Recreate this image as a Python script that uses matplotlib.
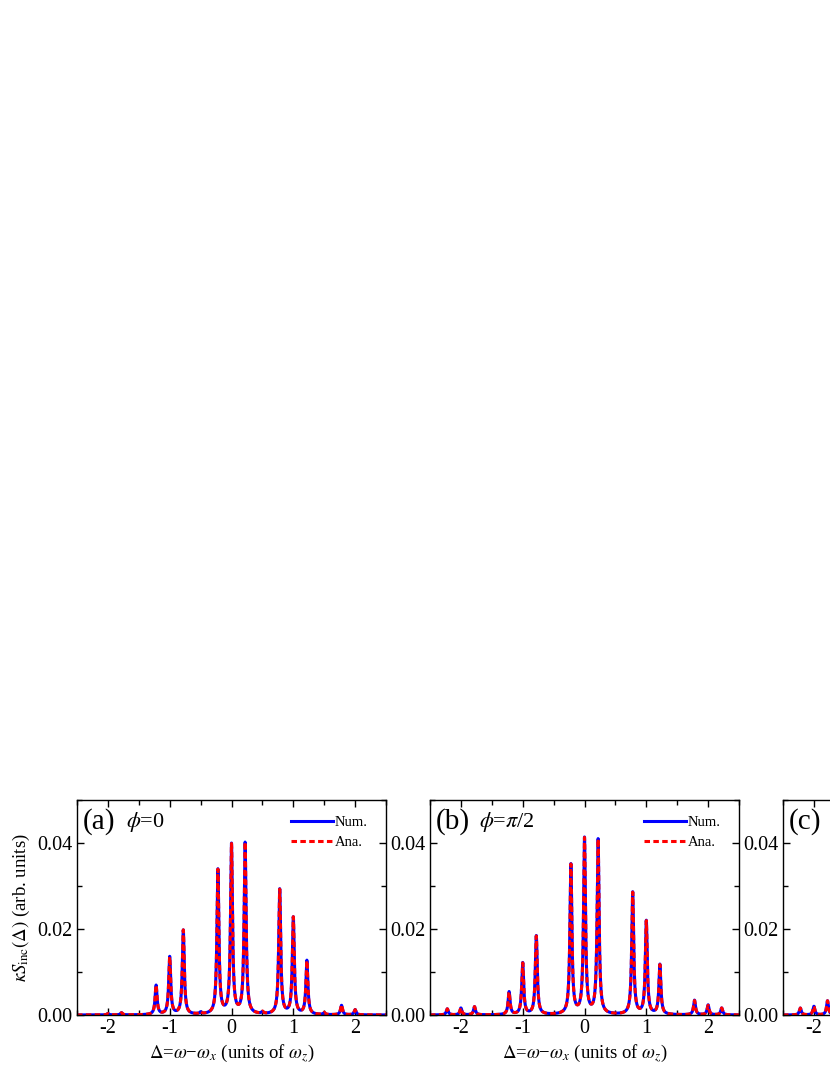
import numpy as np
import matplotlib.pyplot as plt
from matplotlib.ticker import MultipleLocator, FormatStrFormatter

plt.rcParams['font.family'] = ['Liberation Serif', 'DejaVu Serif']
plt.rcParams['mathtext.fontset'] = 'stix'

# peak positions (units of omega_z) and heights
pos_a = [-2.0, -1.78, -1.22, -1.0, -0.78, -0.5, -0.22, 0.0, 0.22, 0.5, 0.78, 1.0, 1.22, 1.5, 1.78, 2.0]
num_a = [0.0003, 0.0005, 0.0068, 0.0134, 0.0196, 0.0004, 0.0336, 0.0394, 0.0398, 0.0004, 0.0291, 0.0225, 0.0125, 0.0004, 0.0022, 0.0012]
ana_a = [0.0003, 0.0005, 0.0068, 0.0133, 0.0196, 0.0005, 0.0335, 0.0393, 0.0398, 0.0005, 0.0290, 0.0225, 0.0124, 0.0005, 0.0023, 0.0012]

pos_b = [-2.22, -2.0, -1.78, -1.22, -1.0, -0.78, -0.22, 0.0, 0.22, 0.78, 1.0, 1.22, 1.78, 2.0, 2.22]
num_b = [0.0014, 0.0016, 0.0019, 0.0053, 0.0120, 0.0183, 0.0348, 0.0408, 0.0406, 0.0284, 0.0217, 0.0116, 0.0034, 0.0023, 0.0016]
ana_b = [0.0014, 0.0016, 0.0019, 0.0052, 0.0119, 0.0182, 0.0347, 0.0407, 0.0405, 0.0283, 0.0216, 0.0115, 0.0033, 0.0022, 0.0016]

# panel (c) is cut off at the right edge, only its left part is visible
pos_c = [-2.22, -2.0, -1.78]
num_c = [0.0016, 0.0020, 0.0033]
ana_c = [0.0016, 0.0020, 0.0033]

width = 0.019  # half width of the peaks
labels = ['(a)', '(b)', '(c)']
phis = [r'$\phi$=0', r'$\phi$=$\pi$/2', '']


def spectrum(x, pos, amp):
    y = np.zeros_like(x)
    for p, a in zip(pos, amp):
        y += a * width**2 / ((x - p)**2 + width**2)
    return y


x = np.linspace(-2.5, 2.5, 5001)

fig = plt.figure(figsize=(8.3, 10.75), dpi=100)
lefts = [77 / 830, 430 / 830, 783 / 830]
data = [(pos_a, num_a, ana_a), (pos_b, num_b, ana_b), (pos_c, num_c, ana_c)]

for i in range(3):
    ax = fig.add_axes([lefts[i], 60 / 1075, 309 / 830, 215 / 1075])
    pos, num, ana = data[i]
    ax.plot(x, spectrum(x, pos, num), color='#0000ff', lw=2.2, label='Num.')
    ax.plot(x, spectrum(x, pos, ana), color='#ff0000', lw=2.2, ls='--', dashes=(1.8, 1.1), label='Ana.')
    ax.set_xlim(-2.5, 2.5)
    ax.set_ylim(0, 0.05)
    ax.xaxis.set_major_locator(MultipleLocator(1))
    ax.xaxis.set_minor_locator(MultipleLocator(0.5))
    ax.yaxis.set_major_locator(MultipleLocator(0.02))
    ax.yaxis.set_minor_locator(MultipleLocator(0.01))
    ax.yaxis.set_major_formatter(FormatStrFormatter('%.2f'))
    if i < 2:
        ax.xaxis.set_major_formatter(FormatStrFormatter('%d'))
    else:
        ax.set_xticks([-2, -1, 0, 1, 2])
        ax.set_xticklabels(['-2', '', '', '', ''])
    ax.tick_params(which='both', direction='in', top=True, right=True, labelsize=14.5, width=1)
    ax.tick_params(which='major', length=5, pad=3)
    ax.tick_params(which='minor', length=3.5)
    for s in ax.spines.values():
        s.set_linewidth(1)
    ax.text(0.02, 0.9, labels[i], transform=ax.transAxes, fontsize=21, va='center')
    ax.text(0.158, 0.9, phis[i], transform=ax.transAxes, fontsize=16, va='center')
    if i < 2:
        ax.set_xlabel('$\\Delta$=$\\omega$\u2212$\\omega_x$ (units of $\\omega_z$)', fontsize=13.5, labelpad=3)
        ax.legend(loc='upper right', bbox_to_anchor=(0.975, 0.975), frameon=False, fontsize=10.5,
                  handlelength=2.9, handletextpad=0.15, labelspacing=0.5, borderpad=0.2)
    if i == 0:
        ax.set_ylabel(r'$\kappa S_{\mathrm{inc}}(\Delta)$ (arb. units)', fontsize=13.5, labelpad=4)

fig.savefig('out.png', dpi=100)
